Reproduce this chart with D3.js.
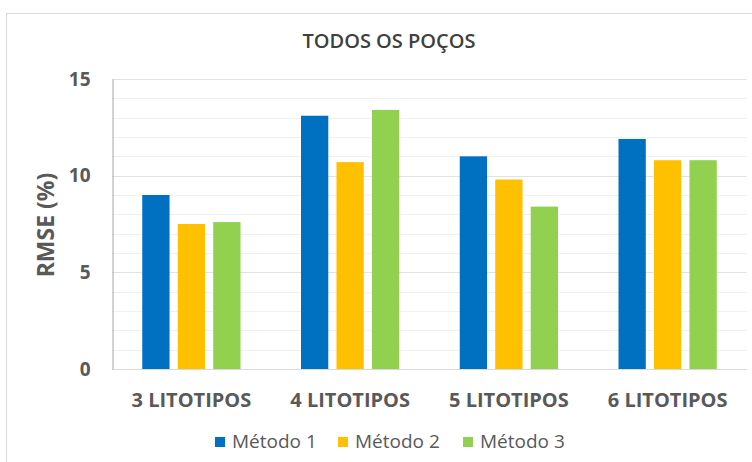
<!DOCTYPE html>
<html>
<head>
<meta charset="utf-8">
<script src="https://cdn.jsdelivr.net/npm/d3@7"></script>
<style>
  html, body { margin: 0; padding: 0; background: #fff; }
  svg { display: block; font-family: "Open Sans", "Noto Sans", sans-serif; }
</style>
</head>
<body>
<svg id="chart" width="752" height="462"></svg>
<script>
// Chart data
const categories = ["3 LITOTIPOS", "4 LITOTIPOS", "5 LITOTIPOS", "6 LITOTIPOS"];
const seriesNames = ["Método 1", "Método 2", "Método 3"];
const metodo1 = [9.0, 13.1, 11.0, 11.9];
const metodo2 = [7.5, 10.7, 9.8, 10.8];
const metodo3 = [7.6, 13.4, 8.4, 10.8];
const yTicks = [0, 5, 10, 15];
const colors = ["#0070C0", "#FFC000", "#92D050"];

const seriesValues = [metodo1, metodo2, metodo3];
const rows = categories.map((c, i) => ({
  category: c,
  values: seriesNames.map((s, j) => ({ series: s, value: seriesValues[j][i] }))
}));

const svg = d3.select("#chart");
const plot = { left: 112, right: 747, top: 79, bottom: 369 };

// outer frame of the chart area
svg.append("rect")
  .attr("x", 6.5).attr("y", 13.5)
  .attr("width", 780).attr("height", 480)
  .attr("fill", "#fff").attr("stroke", "#d9d9d9").attr("stroke-width", 1);

const x0 = d3.scaleBand()
  .domain(categories)
  .range([plot.left, plot.right])
  .paddingInner(0.381)
  .paddingOuter(0.1905);

const x1 = d3.scaleBand()
  .domain(seriesNames)
  .range([0, x0.bandwidth()])
  .paddingInner(0.231);

const y = d3.scaleLinear().domain([0, 15]).range([plot.bottom, plot.top]);

// minor gridlines every 1 unit
const minor = d3.range(1, 15).filter(v => v % 5 !== 0);
svg.append("g").selectAll("line").data(minor).join("line")
  .attr("x1", plot.left).attr("x2", plot.right)
  .attr("y1", d => Math.round(y(d)) + 0.5).attr("y2", d => Math.round(y(d)) + 0.5)
  .attr("stroke", "#f0f0f0").attr("stroke-width", 1);

// major gridlines
svg.append("g").selectAll("line").data(yTicks.slice(1)).join("line")
  .attr("x1", plot.left).attr("x2", plot.right)
  .attr("y1", d => Math.round(y(d)) + 0.5).attr("y2", d => Math.round(y(d)) + 0.5)
  .attr("stroke", "#e2e2e2").attr("stroke-width", 1);

// bars
const groups = svg.append("g").selectAll("g").data(rows).join("g")
  .attr("transform", d => `translate(${x0(d.category)},0)`);
groups.selectAll("rect").data(d => d.values).join("rect")
  .attr("x", d => x1(d.series))
  .attr("width", x1.bandwidth())
  .attr("y", d => y(d.value))
  .attr("height", d => y(0) - y(d.value))
  .attr("fill", (d, i) => colors[i]);

// baseline
svg.append("line")
  .attr("x1", plot.left).attr("x2", plot.right)
  .attr("y1", plot.bottom + 0.5).attr("y2", plot.bottom + 0.5)
  .attr("stroke", "#d9d9d9").attr("stroke-width", 1);

// y axis
const yAxis = svg.append("g")
  .attr("transform", `translate(${plot.left + 0.5},0)`)
  .call(d3.axisLeft(y).tickValues(yTicks).tickSize(0).tickPadding(22).tickFormat(d3.format("d")));
yAxis.select(".domain").attr("stroke", "#a6a6a6");
yAxis.selectAll("text")
  .attr("fill", "#595959").attr("font-size", 19).attr("font-weight", 700)
  .attr("font-family", "'Open Sans', sans-serif");

// x axis labels
const xAxis = svg.append("g")
  .attr("transform", `translate(0,${plot.bottom})`)
  .call(d3.axisBottom(x0).tickSize(0));
xAxis.select(".domain").remove();
xAxis.selectAll("text")
  .attr("y", 38).attr("dy", 0)
  .attr("fill", "#595959").attr("font-size", 20).attr("font-weight", 700)
  .attr("font-family", "'Open Sans', sans-serif");

// title
svg.append("text")
  .attr("x", 389).attr("y", 48)
  .attr("text-anchor", "middle")
  .attr("font-size", 20).attr("font-weight", 600)
  .attr("fill", "#404040")
  .text("TODOS OS POÇOS");

// y axis title
svg.append("text")
  .attr("transform", "translate(54,225) rotate(-90)")
  .attr("text-anchor", "middle")
  .attr("font-size", 23).attr("font-weight", 700)
  .attr("fill", "#595959")
  .text("RMSE (%)");

// legend
const legendX = [215, 338, 463];
const legend = svg.append("g").selectAll("g").data(seriesNames).join("g")
  .attr("transform", (d, i) => `translate(${legendX[i]},447)`);
legend.append("rect")
  .attr("x", 0).attr("y", -10).attr("width", 10).attr("height", 10)
  .attr("fill", (d, i) => colors[i]);
legend.append("text")
  .attr("x", 17).attr("y", 1)
  .attr("font-size", 19).attr("fill", "#595959")
  .text(d => d);
</script>
</body>
</html>
